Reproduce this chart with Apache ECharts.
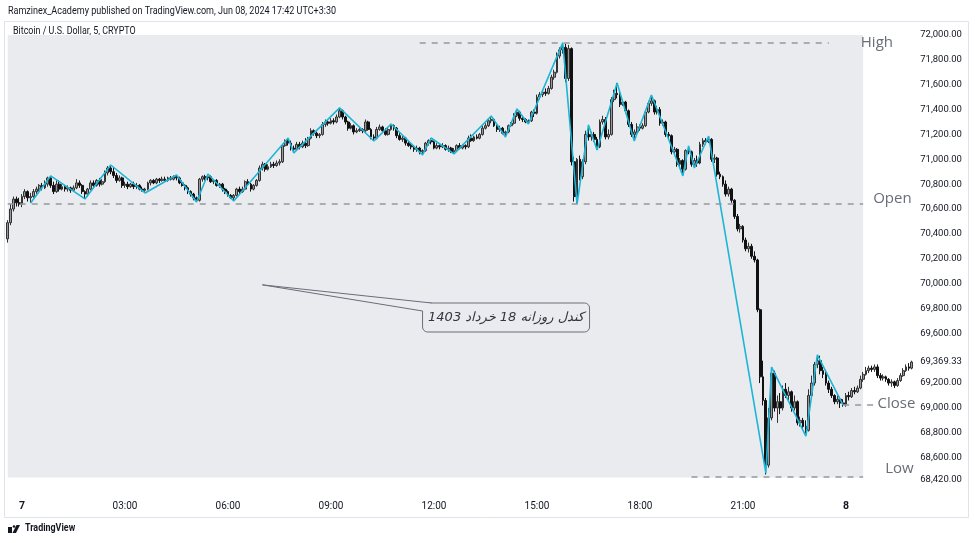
<!DOCTYPE html>
<html><head><meta charset="utf-8">
<script src="https://cdn.jsdelivr.net/npm/echarts@6/dist/echarts.min.js"></script>
<style>html,body{margin:0;padding:0;background:#fff;}#c{width:975px;height:543px;}</style>
</head><body><div id="c"></div>
<script>
// ---------------- DATA ----------------
const firstCandle = {day: 6, minutes: 23 * 60 + 35}; // 5-minute candles start 23:35 on the 6th
const candles = [ // [open, close, low, high]
[70360,70490,70330,70510],[70490,70600,70470,70640],[70600,70680,70580,70700],[70680,70650,70620,70700],[70650,70640,70620,70690],
[70640,70700,70615,70720],[70700,70740,70680,70760],[70740,70690,70660,70750],[70690,70700,70648,70730],[70700,70740,70690,70760],
[70740,70760,70720,70780],[70760,70790,70740,70800],[70790,70770,70750,70810],[70770,70800,70760,70830],[70800,70850,70780,70860],
[70850,70790,70770,70866],[70790,70740,70720,70820],[70740,70800,70730,70830],[70800,70760,70740,70830],[70760,70780,70750,70800],
[70780,70760,70740,70790],[70760,70770,70740,70790],[70770,70750,70730,70780],[70750,70770,70740,70790],[70770,70810,70760,70840],
[70810,70790,70770,70830],[70790,70740,70720,70800],[70740,70720,70681,70750],[70720,70760,70700,70770],[70760,70810,70750,70830],
[70810,70790,70770,70830],[70790,70830,70780,70840],[70830,70800,70780,70850],[70800,70820,70790,70840],[70820,70890,70810,70910],
[70890,70930,70870,70945],[70930,70900,70880,70954],[70900,70870,70850,70930],[70870,70830,70810,70890],[70830,70850,70820,70870],
[70850,70790,70770,70860],[70790,70800,70770,70820],[70800,70780,70760,70820],[70780,70800,70770,70810],[70800,70780,70760,70820],
[70780,70790,70760,70810],[70790,70760,70750,70800],[70760,70750,70740,70780],[70750,70760,70729,70770],[70760,70810,70750,70820],
[70810,70830,70790,70840],[70830,70810,70800,70840],[70810,70840,70800,70850],[70840,70830,70810,70850],[70830,70840,70820,70860],
[70840,70830,70820,70860],[70830,70850,70820,70860],[70850,70840,70830,70865],[70840,70860,70830,70870],[70860,70850,70830,70874],
[70850,70810,70800,70860],[70810,70790,70780,70830],[70790,70770,70750,70800],[70770,70740,70720,70780],[70740,70720,70700,70750],
[70720,70690,70670,70730],[70690,70670,70656,70700],[70670,70840,70660,70850],[70840,70860,70820,70870],[70860,70850,70830,70875],
[70850,70860,70830,70882],[70860,70820,70810,70870],[70820,70830,70800,70840],[70830,70790,70780,70840],[70790,70800,70770,70810],
[70800,70760,70740,70810],[70760,70740,70720,70770],[70740,70710,70700,70750],[70710,70690,70680,70720],[70690,70710,70665,70720],
[70710,70760,70700,70770],[70760,70740,70720,70780],[70740,70760,70730,70780],[70760,70820,70750,70830],[70820,70800,70790,70840],
[70800,70760,70740,70810],[70760,70790,70750,70800],[70790,70830,70780,70840],[70830,70930,70820,70950],[70930,70960,70910,70980],
[70960,70920,70900,70970],[70920,70940,70910,70960],[70940,70960,70930,70980],[70960,70950,70930,70980],[70950,70970,70940,70990],
[70970,70980,70950,71000],[70980,71110,70970,71120],[71110,71150,71100,71160],[71150,71130,71110,71171],[71130,71090,71070,71150],
[71090,71080,71051,71110],[71080,71120,71070,71140],[71120,71100,71080,71140],[71100,71130,71090,71150],[71130,71110,71090,71170],
[71110,71170,71100,71180],[71170,71230,71160,71250],[71230,71210,71190,71240],[71210,71190,71170,71220],[71190,71200,71170,71210],
[71200,71280,71190,71300],[71280,71300,71260,71320],[71300,71290,71270,71320],[71290,71310,71280,71330],[71310,71300,71280,71330],
[71300,71340,71290,71360],[71340,71390,71330,71413],[71390,71340,71320,71400],[71340,71300,71280,71350],[71300,71250,71230,71310],
[71250,71270,71240,71290],[71270,71220,71200,71280],[71220,71230,71210,71250],[71230,71240,71220,71260],[71240,71230,71210,71250],
[71230,71300,71220,71320],[71300,71240,71230,71310],[71240,71180,71160,71250],[71180,71170,71147,71200],[71170,71240,71160,71260],
[71240,71260,71230,71280],[71260,71230,71210,71270],[71230,71200,71190,71250],[71200,71240,71190,71260],[71240,71270,71230,71284],
[71270,71250,71230,71280],[71250,71190,71170,71260],[71190,71160,71150,71210],[71160,71170,71140,71190],[71170,71130,71110,71180],
[71130,71110,71100,71150],[71110,71100,71080,71130],[71100,71080,71060,71110],[71080,71090,71060,71110],[71090,71060,71040,71100],
[71060,71070,71035,71080],[71070,71130,71060,71140],[71130,71150,71110,71160],[71150,71140,71120,71171],[71140,71090,71080,71150],
[71090,71110,71080,71130],[71110,71100,71080,71120],[71100,71110,71090,71130],[71110,71080,71070,71120],[71080,71090,71060,71110],
[71090,71060,71050,71100],[71060,71070,71043,71090],[71070,71110,71060,71120],[71110,71090,71080,71130],[71090,71110,71080,71120],
[71110,71100,71080,71120],[71100,71170,71090,71190],[71170,71150,71140,71200],[71150,71180,71140,71190],[71180,71170,71160,71200],
[71170,71200,71160,71210],[71200,71250,71190,71270],[71250,71270,71240,71290],[71270,71310,71260,71330],[71310,71320,71290,71348],
[71320,71270,71260,71330],[71270,71240,71220,71280],[71240,71250,71220,71270],[71250,71210,71200,71260],[71210,71220,71179,71230],
[71220,71270,71210,71280],[71270,71290,71260,71300],[71290,71350,71280,71370],[71350,71380,71340,71405],[71380,71330,71310,71390],
[71330,71320,71300,71350],[71320,71300,71290,71330],[71300,71310,71284,71320],[71310,71380,71300,71390],[71380,71370,71340,71400],
[71370,71500,71360,71520],[71500,71520,71480,71540],[71520,71540,71500,71560],[71540,71530,71510,71570],[71530,71570,71520,71590],
[71570,71660,71560,71680],[71660,71700,71640,71720],[71700,71830,71690,71860],[71830,71880,71810,71900],[71880,71900,71850,71936],
[71900,71650,71620,71930],[71650,71890,71630,71920],[71890,70980,70950,71900],[70980,70700,70660,71020],[70700,71000,70640,71010],
[71000,70860,70830,71030],[70860,70980,70840,71000],[70980,71200,70960,71230],[71200,71180,71150,71276],[71180,71200,71150,71220],
[71200,71160,71140,71220],[71160,71100,71075,71180],[71100,71300,71090,71320],[71300,71320,71280,71350],[71320,71180,71160,71340],
[71180,71200,71160,71240],[71200,71480,71190,71500],[71480,71530,71460,71560],[71530,71520,71490,71614],[71520,71440,71420,71550],
[71440,71460,71430,71480],[71460,71390,71370,71470],[71390,71280,71260,71400],[71280,71200,71180,71300],[71200,71220,71147,71240],
[71220,71260,71210,71290],[71260,71250,71230,71280],[71250,71270,71240,71290],[71270,71380,71260,71400],[71380,71450,71370,71470],
[71450,71470,71430,71517],[71470,71380,71360,71480],[71380,71400,71360,71430],[71400,71290,71270,71420],[71290,71300,71270,71320],
[71300,71200,71180,71310],[71200,71190,71160,71220],[71190,71060,71040,71200],[71060,71080,71040,71100],[71080,70960,70940,71090],
[70960,70990,70930,71010],[70990,70920,70866,71000],[70920,71070,70910,71080],[71070,71060,71040,71107],[71060,70960,70940,71070],
[70960,70990,70930,71010],[70990,70970,70940,71030],[70970,71120,70960,71140],[71120,71150,71100,71170],[71150,71140,71120,71170],
[71140,71160,71130,71187],[71160,71000,70980,71170],[71000,71010,70970,71040],[71010,70880,70860,71020],[70880,70860,70840,70900],
[70860,70800,70780,70870],[70800,70720,70700,70830],[70720,70760,70700,70780],[70760,70670,70650,70770],[70670,70540,70520,70680],
[70540,70440,70420,70560],[70440,70460,70410,70480],[70460,70350,70330,70470],[70350,70280,70260,70370],[70280,70300,70250,70330],
[70300,70220,70200,70320],[70220,70190,70170,70260],[70190,69790,69770,70200],[69790,69250,69200,69800],[69250,69060,69020,69380],
[69060,68540,68465,69080],[68540,68920,68520,69000],[68920,69280,68900,69329],[69280,69000,68970,69300],[69000,69050,68880,69100],
[69050,69000,68950,69120],[69000,69150,68980,69180],[69150,69100,69080,69200],[69100,69130,69060,69170],[69130,69000,68970,69140],
[69000,69050,68980,69100],[69050,68880,68860,69060],[68880,68900,68850,68930],[68900,68850,68820,68920],[68850,68820,68774,68900],
[68820,69100,68810,69150],[69100,69200,69080,69260],[69200,69350,69180,69370],[69350,69380,69320,69426],[69380,69300,69270,69420],
[69300,69270,69240,69330],[69270,69200,69180,69290],[69200,69150,69120,69220],[69150,69100,69080,69170],[69100,69050,69030,69110],
[69050,69070,69030,69100],[69070,69040,69000,69090],[69040,69030,69010,69070],[69030,69100,69010,69120],[69100,69090,69060,69130],
[69090,69140,69080,69160],[69140,69130,69110,69170],[69130,69160,69120,69180],[69160,69230,69150,69260],[69230,69270,69210,69290],
[69270,69300,69260,69330],[69300,69320,69280,69340],[69320,69310,69290,69340],[69310,69330,69290,69350],[69330,69260,69240,69350],
[69260,69240,69220,69280],[69240,69250,69220,69270],[69250,69230,69210,69260],[69230,69200,69180,69240],[69200,69210,69170,69230],
[69210,69180,69160,69220],[69180,69220,69170,69240],[69220,69260,69210,69280],[69260,69300,69250,69320],[69300,69330,69290,69350],
[69330,69320,69300,69360],[69320,69369.33,69310,69380]
];
// zigzag pivots (time, price)
const pivotTimes = ['7 00:15','7 00:50','7 01:50','7 02:35','7 03:35','7 04:30','7 05:05','7 05:25','7 06:10','7 07:45','7 07:55',
  '7 09:15','7 10:15','7 10:45','7 11:40','7 11:55','7 12:35','7 13:40','7 14:05','7 14:25','7 14:45','7 15:45','7 16:10',
  '7 16:30','7 16:45','7 17:20','7 17:50','7 18:20','7 19:15','7 19:25','7 19:35','7 20:00','7 21:40','7 21:50','7 22:50',
  '7 23:10','7 23:55'];
const pivotPrices = [70648,70866,70681,70954,70729,70874,70656,70882,70665,71171,71051,
  71413,71147,71284,71035,71171,71043,71348,71179,71405,71284,71936,70640,
  71276,71075,71614,71147,71517,70866,71107,70930,71187,68476,69329,68774,
  69426,69023];
// horizontal levels
const levelNames = ['High','Open','Close','Low'];
const levelPrices = [71936, 70640, 69023, 68450];
const levelFrom = ['7 11:35','6 23:35','7 23:55','7 19:30'];
const levelTo = ['7 23:30','8 00:30','8 00:50','8 00:30'];
const shadeFrom = '6 23:35', shadeTo = '8 00:30', shadeTop = 72000, shadeBottom = 68440;
const yTickValues = [72000,71800,71600,71400,71200,71000,70800,70600,70400,70200,70000,69800,69600,69400,69200,69000,68800,68600,68420];
const lastPrice = 69369.33;
const noteText = 'کندل روزانه 18 خرداد 1403';
const noteTip = ['7 07:00', 69990];
const noteBox = ['7 11:40', 69844];

// ---------------- BUILD ----------------
const pad = n => String(n).padStart(2, '0');
const categories = candles.map((_, i) => {
  const t = firstCandle.minutes + 5 * i;
  const day = firstCandle.day + Math.floor(t / 1440);
  const m = t % 1440;
  return day + ' ' + pad(Math.floor(m / 60)) + ':' + pad(m % 60);
});
const idx = t => categories.indexOf(t);
const fmt = v => v.toLocaleString('en-US', {minimumFractionDigits: 2, maximumFractionDigits: 2});
const FONT = "'Roboto',sans-serif";
const TXT = '#131722';
const LEVEL_COLOR = '#9598a1';
const LABEL_COLOR = '#6a6d78';
const BG_SHADE = '#eaebef';

// label tweaks: distance from line end, and vertical lift (via a blank second line)
const levelLabelCfg = [
  {distance: 32, lift: 0},
  {distance: 10, lift: 10},
  {distance: 3, lift: 2},
  {distance: 22, lift: 16}
];

const chart = echarts.init(document.getElementById('c'), null, {renderer: 'canvas'});
const option = {
  animation: false,
  backgroundColor: '#ffffff',
  grid: {left: 6.3, right: 61.8, top: 25, bottom: 53, containLabel: false, outerBoundsMode: 'none'},
  xAxis: {
    type: 'category', data: categories, boundaryGap: true,
    axisLine: {show: false}, axisTick: {show: false}, splitLine: {show: false},
    axisLabel: {
      color: TXT, fontFamily: FONT, fontSize: 10, margin: 11, hideOverlap: false,
      interval: (i, v) => { const hm = v.split(' ')[1]; return hm.endsWith(':00') && (+hm.slice(0, 2)) % 3 === 0; },
      formatter: v => { const [d, hm] = v.split(' '); return hm === '00:00' ? '{b|' + d + '}' : hm; },
      rich: {b: {fontWeight: 'bold', color: TXT, fontFamily: FONT, fontSize: 10.5}}
    }
  },
  yAxis: {
    type: 'value', position: 'right', min: 68340, max: 72080, scale: true,
    axisLine: {show: false}, axisTick: {show: false}, splitLine: {show: false},
    axisLabel: {
      color: TXT, fontFamily: FONT, fontSize: 9.5, margin: 7,
      customValues: yTickValues, formatter: v => fmt(v)
    }
  },
  series: [
    {
      type: 'line', name: 'shade', data: [], z: 1, silent: true,
      markArea: {silent: true, itemStyle: {color: BG_SHADE},
        data: [[{xAxis: shadeFrom, yAxis: shadeTop}, {xAxis: shadeTo, yAxis: shadeBottom}]]},
      markLine: {
        silent: true, symbol: ['none', 'none'],
        lineStyle: {color: LEVEL_COLOR, type: [6, 6], width: 1.5},
        data: levelNames.map((n, i) => [
          {xAxis: levelFrom[i], yAxis: levelPrices[i],
           label: {show: true, position: 'end', formatter: levelLabelCfg[i].lift ? n + '\n' : n,
             color: LABEL_COLOR, fontSize: 15, lineHeight: levelLabelCfg[i].lift || 18,
             fontFamily: "'Open Sans',sans-serif", distance: levelLabelCfg[i].distance}},
          {xAxis: levelTo[i], yAxis: levelPrices[i]}
        ])
      }
    },
    {
      type: 'candlestick', name: 'BTCUSD', data: candles, z: 3,
      barWidth: 2.3,
      itemStyle: {color: '#999999', color0: '#111111', borderColor: '#333333', borderColor0: '#111111', borderWidth: 1},
      markLine: {
        silent: true, symbol: ['none', 'none'],
        lineStyle: {color: 'rgba(0,0,0,0)', width: 0},
        data: [{yAxis: lastPrice,
          label: {show: true, position: 'end', formatter: fmt(lastPrice), color: TXT, fontSize: 9.5,
            fontFamily: FONT, backgroundColor: '#ffffff', padding: [2, 5, 10, 1], distance: 6}}]
      }
    },
    {
      type: 'line', name: 'zigzag', z: 4, symbol: 'none', silent: true,
      data: pivotTimes.map((t, i) => [idx(t), pivotPrices[i]]),
      lineStyle: {color: '#1cb5d6', width: 1.6}
    }
  ]
};
chart.setOption(option);

// annotation + texts
const tip = chart.convertToPixel({gridIndex: 0}, [idx(noteTip[0]), noteTip[1]]);
const box = chart.convertToPixel({gridIndex: 0}, [idx(noteBox[0]), noteBox[1]]);
const bw = 167, bh = 29;
const wedge = [[box[0] + 9, box[1]], tip, [box[0], box[1] + 8]];
chart.setOption({
  graphic: [
    {type: 'rect', silent: true, shape: {x: 4.5, y: 21.5, width: 964, height: 496}, style: {fill: null, stroke: '#e0e3eb', lineWidth: 1}, z: 0},
    {type: 'text', x: 8, y: 6, scaleX: 0.82, style: {text: 'Ramzinex_Academy published on TradingView.com, Jun 08, 2024 17:42 UTC+3:30', fill: TXT, font: "11px " + FONT}},
    {type: 'text', x: 13, y: 26, scaleX: 0.85, style: {text: 'Bitcoin / U.S. Dollar, 5, CRYPTO', fill: TXT, font: "10.5px " + FONT}},
    {type: 'polygon', shape: {points: [[8, 533], [12, 533], [12, 527], [8, 527]]}, style: {fill: TXT}},
    {type: 'polygon', shape: {points: [[12.5, 533], [16, 533], [20, 525], [16.5, 525]]}, style: {fill: TXT}},
    {type: 'circle', shape: {cx: 14, cy: 526.5, r: 1.3}, style: {fill: TXT}},
    {type: 'text', x: 25, y: 523, scaleX: 0.85, style: {text: 'TradingView', fill: TXT, font: "bold 10.5px " + FONT}},
    {type: 'rect', shape: {x: box[0], y: box[1], width: bw, height: bh, r: 5}, style: {fill: BG_SHADE, stroke: '#6a6d78', lineWidth: 1}, z: 10},
    {type: 'polygon', shape: {points: wedge}, style: {fill: BG_SHADE}, z: 11},
    {type: 'polyline', shape: {points: wedge}, style: {stroke: '#6a6d78', lineWidth: 1, fill: null}, z: 12},
    {type: 'text', x: box[0] + bw / 2, y: box[1] + bh / 2, z: 13,
     style: {text: '\u202B' + noteText + '\u202C', fill: '#33363e', font: "italic 13px 'DejaVu Sans',sans-serif", align: 'center', verticalAlign: 'middle'}}
  ]
});
</script></body></html>
